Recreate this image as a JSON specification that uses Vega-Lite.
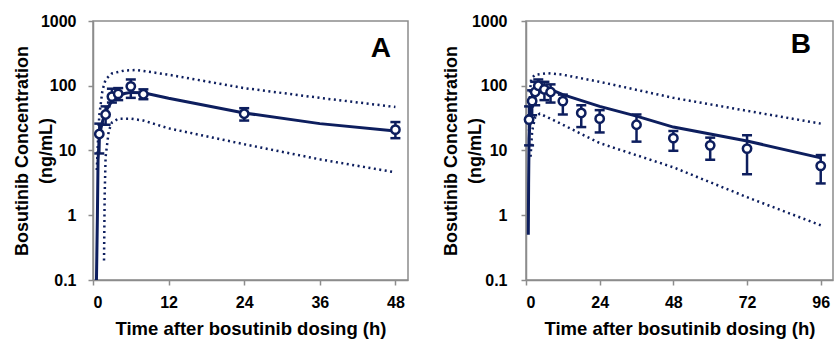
{
  "$schema": "https://vega.github.io/schema/vega-lite/v6.json",
  "background": "white",
  "padding": {"left": 12, "top": 12, "right": 0, "bottom": 0},
  "spacing": 118,
  "bounds": "flush",
  "config": {
    "font": "Liberation Sans",
    "view": {"stroke": "#8c8c8c", "strokeWidth": 1.5},
    "axis": {
      "labelFont": "Liberation Sans", "labelFontWeight": "bold", "labelFontSize": 16, "labelColor": "#000",
      "titleFont": "Liberation Sans", "titleFontWeight": "bold", "titleFontSize": 18, "titleColor": "#000",
      "domainColor": "#8c8c8c", "domainWidth": 1.5, "tickColor": "#8c8c8c", "tickSize": 5, "tickWidth": 1.5, "grid": false
    }
  },
  "datasets": {
    "obsA": [
      {"t": 1, "c": 18, "lo": 9, "hi": 26},
      {"t": 2, "c": 36, "lo": 25, "hi": 48},
      {"t": 3, "c": 68, "lo": 55, "hi": 90},
      {"t": 4, "c": 75, "lo": 60, "hi": 92},
      {"t": 6, "c": 98, "lo": 65, "hi": 125},
      {"t": 8, "c": 74, "lo": 62, "hi": 88},
      {"t": 24, "c": 37, "lo": 29, "hi": 45},
      {"t": 48, "c": 21, "lo": 15.5, "hi": 27.5}
    ],
    "modelA": [
      {"t": 0.55, "c": 0.1}, {"t": 0.7, "c": 1}, {"t": 0.8, "c": 7}, {"t": 1, "c": 17},
      {"t": 1.5, "c": 28}, {"t": 2, "c": 40}, {"t": 3, "c": 58}, {"t": 4, "c": 70},
      {"t": 5, "c": 76}, {"t": 6, "c": 79}, {"t": 8, "c": 78}, {"t": 12, "c": 64},
      {"t": 24, "c": 38}, {"t": 36, "c": 26}, {"t": 48, "c": 20}
    ],
    "piA": [
      {"band": "upper", "t": 0.6, "c": 5}, {"band": "upper", "t": 0.8, "c": 15}, {"band": "upper", "t": 1, "c": 35},
      {"band": "upper", "t": 1.5, "c": 85}, {"band": "upper", "t": 2, "c": 125}, {"band": "upper", "t": 3, "c": 155},
      {"band": "upper", "t": 5, "c": 172}, {"band": "upper", "t": 7, "c": 175}, {"band": "upper", "t": 12, "c": 148},
      {"band": "upper", "t": 24, "c": 92}, {"band": "upper", "t": 36, "c": 65}, {"band": "upper", "t": 48, "c": 47},
      {"band": "lower", "t": 1.75, "c": 0.2}, {"band": "lower", "t": 1.85, "c": 2}, {"band": "lower", "t": 2, "c": 8},
      {"band": "lower", "t": 2.5, "c": 20}, {"band": "lower", "t": 3, "c": 27}, {"band": "lower", "t": 4, "c": 31},
      {"band": "lower", "t": 6, "c": 31}, {"band": "lower", "t": 8, "c": 29}, {"band": "lower", "t": 12, "c": 22},
      {"band": "lower", "t": 24, "c": 12.5}, {"band": "lower", "t": 36, "c": 7.3}, {"band": "lower", "t": 48, "c": 4.6}
    ],
    "labA": [{"t": 45.7, "c": 368, "lab": "A"}],
    "obsB": [
      {"t": 1, "c": 30, "lo": 12, "hi": 48},
      {"t": 2, "c": 58, "lo": 35, "hi": 85},
      {"t": 3, "c": 80, "lo": 50, "hi": 115},
      {"t": 4, "c": 100, "lo": 80, "hi": 125},
      {"t": 6, "c": 88, "lo": 60, "hi": 115},
      {"t": 8, "c": 80, "lo": 55, "hi": 105},
      {"t": 12, "c": 58, "lo": 36, "hi": 73},
      {"t": 18, "c": 38, "lo": 23, "hi": 50},
      {"t": 24, "c": 31, "lo": 19, "hi": 42},
      {"t": 36, "c": 25, "lo": 13.7, "hi": 36},
      {"t": 48, "c": 15.5, "lo": 9.9, "hi": 20},
      {"t": 60, "c": 12, "lo": 7.2, "hi": 15.8},
      {"t": 72, "c": 10.7, "lo": 4.3, "hi": 17.2},
      {"t": 96, "c": 5.8, "lo": 3.1, "hi": 8.5}
    ],
    "modelB": [
      {"t": 0.75, "c": 0.5}, {"t": 0.85, "c": 3}, {"t": 1, "c": 15}, {"t": 1.5, "c": 45},
      {"t": 2, "c": 65}, {"t": 3, "c": 88}, {"t": 4, "c": 97}, {"t": 6, "c": 95},
      {"t": 8, "c": 88}, {"t": 12, "c": 73}, {"t": 24, "c": 48}, {"t": 36, "c": 34},
      {"t": 48, "c": 23}, {"t": 60, "c": 18}, {"t": 72, "c": 14}, {"t": 96, "c": 7.7}
    ],
    "piB": [
      {"band": "upper", "t": 1, "c": 20}, {"band": "upper", "t": 1.3, "c": 80}, {"band": "upper", "t": 1.7, "c": 130},
      {"band": "upper", "t": 3, "c": 148}, {"band": "upper", "t": 7, "c": 157}, {"band": "upper", "t": 12, "c": 148},
      {"band": "upper", "t": 24, "c": 115}, {"band": "upper", "t": 48, "c": 65}, {"band": "upper", "t": 72, "c": 41},
      {"band": "upper", "t": 96, "c": 26},
      {"band": "lower", "t": 1.5, "c": 8}, {"band": "lower", "t": 2, "c": 20}, {"band": "lower", "t": 3, "c": 33},
      {"band": "lower", "t": 4.5, "c": 37}, {"band": "lower", "t": 8, "c": 31}, {"band": "lower", "t": 12, "c": 25},
      {"band": "lower", "t": 24, "c": 13}, {"band": "lower", "t": 48, "c": 5.5}, {"band": "lower", "t": 72, "c": 1.9},
      {"band": "lower", "t": 96, "c": 0.7}
    ],
    "labB": [{"t": 89.5, "c": 420, "lab": "B"}]
  },
  "hconcat": [
    {
      "width": 315,
      "height": 259,
      "layer": [
        {
          "data": {"name": "piA"},
          "mark": {"type": "line", "strokeDash": [2, 3.5], "strokeWidth": 2.5, "color": "#0d1e5e", "clip": true},
          "encoding": {
            "x": {"field": "t", "type": "quantitative", "scale": {"domain": [0, 50], "nice": false},
                  "axis": {"values": [0, 12, 24, 36, 48], "title": "Time after bosutinib dosing (h)", "labelPadding": 9, "titlePadding": 9, "titleFontSize": 18.5}},
            "y": {"field": "c", "type": "quantitative", "scale": {"type": "log", "domain": [0.1, 1000], "nice": false},
                  "axis": {"values": [0.1, 1, 10, 100, 1000], "format": "~g", "title": ["Bosutinib Concentration", "(ng/mL)"],
                           "titleLineHeight": 24, "labelPadding": 12, "titleX": -62, "titleY": 129.5}},
            "detail": {"field": "band"}
          }
        },
        {
          "data": {"name": "modelA"},
          "mark": {"type": "line", "strokeWidth": 3, "color": "#0d1e5e", "clip": true},
          "encoding": {"x": {"field": "t", "type": "quantitative"}, "y": {"field": "c", "type": "quantitative"}}
        },
        {
          "data": {"name": "obsA"},
          "mark": {"type": "rule", "strokeWidth": 2.5, "color": "#0d1e5e"},
          "encoding": {"x": {"field": "t", "type": "quantitative"}, "y": {"field": "lo", "type": "quantitative"}, "y2": {"field": "hi"}}
        },
        {
          "data": {"name": "obsA"},
          "mark": {"type": "tick", "orient": "horizontal", "size": 10, "thickness": 2.5, "color": "#0d1e5e", "opacity": 1},
          "encoding": {"x": {"field": "t", "type": "quantitative"}, "y": {"field": "lo", "type": "quantitative"}}
        },
        {
          "data": {"name": "obsA"},
          "mark": {"type": "tick", "orient": "horizontal", "size": 10, "thickness": 2.5, "color": "#0d1e5e", "opacity": 1},
          "encoding": {"x": {"field": "t", "type": "quantitative"}, "y": {"field": "hi", "type": "quantitative"}}
        },
        {
          "data": {"name": "obsA"},
          "mark": {"type": "point", "shape": "circle", "filled": true, "fill": "white", "stroke": "#0d1e5e", "strokeWidth": 2.5, "size": 70, "opacity": 1},
          "encoding": {"x": {"field": "t", "type": "quantitative"}, "y": {"field": "c", "type": "quantitative"}}
        },
        {
          "data": {"name": "labA"},
          "mark": {"type": "text", "font": "Liberation Sans", "fontSize": 28, "fontWeight": "bold", "color": "#000", "align": "center", "baseline": "middle"},
          "encoding": {"x": {"field": "t", "type": "quantitative"}, "y": {"field": "c", "type": "quantitative"}, "text": {"field": "lab"}}
        }
      ]
    },
    {
      "width": 307,
      "height": 259,
      "layer": [
        {
          "data": {"name": "piB"},
          "mark": {"type": "line", "strokeDash": [2, 3.5], "strokeWidth": 2.5, "color": "#0d1e5e", "clip": true},
          "encoding": {
            "x": {"field": "t", "type": "quantitative", "scale": {"domain": [0, 100], "nice": false},
                  "axis": {"values": [0, 24, 48, 72, 96], "title": "Time after bosutinib dosing (h)", "labelPadding": 9, "titlePadding": 9, "titleFontSize": 18.5}},
            "y": {"field": "c", "type": "quantitative", "scale": {"type": "log", "domain": [0.1, 1000], "nice": false},
                  "axis": {"values": [0.1, 1, 10, 100, 1000], "format": "~g", "title": ["Bosutinib Concentration", "(ng/mL)"],
                           "titleLineHeight": 24, "labelPadding": 14, "titleX": -66, "titleY": 129.5}},
            "detail": {"field": "band"}
          }
        },
        {
          "data": {"name": "modelB"},
          "mark": {"type": "line", "strokeWidth": 3, "color": "#0d1e5e", "clip": true},
          "encoding": {"x": {"field": "t", "type": "quantitative"}, "y": {"field": "c", "type": "quantitative"}}
        },
        {
          "data": {"name": "obsB"},
          "mark": {"type": "rule", "strokeWidth": 2.5, "color": "#0d1e5e"},
          "encoding": {"x": {"field": "t", "type": "quantitative"}, "y": {"field": "lo", "type": "quantitative"}, "y2": {"field": "hi"}}
        },
        {
          "data": {"name": "obsB"},
          "mark": {"type": "tick", "orient": "horizontal", "size": 10, "thickness": 2.5, "color": "#0d1e5e", "opacity": 1},
          "encoding": {"x": {"field": "t", "type": "quantitative"}, "y": {"field": "lo", "type": "quantitative"}}
        },
        {
          "data": {"name": "obsB"},
          "mark": {"type": "tick", "orient": "horizontal", "size": 10, "thickness": 2.5, "color": "#0d1e5e", "opacity": 1},
          "encoding": {"x": {"field": "t", "type": "quantitative"}, "y": {"field": "hi", "type": "quantitative"}}
        },
        {
          "data": {"name": "obsB"},
          "mark": {"type": "point", "shape": "circle", "filled": true, "fill": "white", "stroke": "#0d1e5e", "strokeWidth": 2.5, "size": 70, "opacity": 1},
          "encoding": {"x": {"field": "t", "type": "quantitative"}, "y": {"field": "c", "type": "quantitative"}}
        },
        {
          "data": {"name": "labB"},
          "mark": {"type": "text", "font": "Liberation Sans", "fontSize": 28, "fontWeight": "bold", "color": "#000", "align": "center", "baseline": "middle"},
          "encoding": {"x": {"field": "t", "type": "quantitative"}, "y": {"field": "c", "type": "quantitative"}, "text": {"field": "lab"}}
        }
      ]
    }
  ]
}
